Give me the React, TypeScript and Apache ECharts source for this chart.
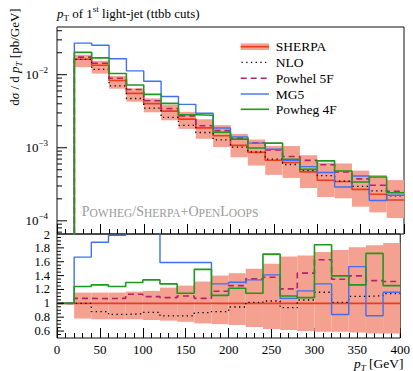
import React, { useEffect, useRef } from 'react';
import * as echarts from 'echarts';

// Bin edges in GeV (first bin 0-20 is empty)
const binEdges = [0, 20, 40, 60, 80, 100, 120, 140, 160, 180, 200, 220, 240, 260, 280, 300, 320, 340, 360, 380, 400];

// SHERPA central values dσ/dpT [pb/GeV] per bin
const sherpa = [0, 0.01626, 0.01345, 0.00835, 0.00556, 0.00402, 0.00317, 0.00247, 0.00187, 0.00146, 0.00108, 0.000865, 0.000676, 0.00063, 0.000468, 0.000359, 0.000345, 0.000269, 0.000231, 0.000193];

// SHERPA uncertainty band, as ratio to central value
const sherpaBandUp = [1, 1.155, 1.155, 1.155, 1.17, 1.18, 1.227, 1.256, 1.314, 1.4, 1.435, 1.5, 1.57, 1.676, 1.69, 1.74, 1.77, 1.81, 1.836, 1.87];
const sherpaBandDown = [1, 0.78, 0.77, 0.77, 0.77, 0.76, 0.75, 0.734, 0.71, 0.7, 0.686, 0.66, 0.63, 0.614, 0.6, 0.59, 0.59, 0.58, 0.565, 0.565];

// Ratios to SHERPA
const nloRatio = [1, 1.0, 0.88, 0.84, 0.85, 0.87, 0.82, 0.82, 0.865, 0.88, 0.947, 1.014, 1.034, 0.937, 1.048, 1.16, 1.014, 1.1, 1.11, 1.14];
const powhelRatio = [1, 1.072, 1.068, 1.072, 1.13, 1.097, 1.082, 1.106, 1.072, 1.175, 1.256, 1.353, 1.377, 1.208, 1.435, 1.628, 1.348, 1.396, 1.328, 1.314];
const mg5Ratio = [1, 1.667, 1.88, 1.98, 2.03, 2.02, 1.59, 1.59, 1.59, 1.28, 1.304, 1.338, 1.41, 1.072, 1.18, 1.28, 0.84, 1.53, 0.82, 1.16];
const powhegRatio = [1, 1.242, 1.266, 1.242, 1.3, 1.338, 1.28, 1.145, 1.49, 1.115, 1.217, 1.145, 1.71, 1.106, 1.082, 1.845, 1.396, 1.266, 1.72, 1.256];

const legendNames = ['SHERPA', 'NLO', 'Powhel 5F', 'MG5', 'Powheg 4F'];
const ratioTickLabels = ['0.6', '0.8', '1', '1.2', '1.4', '1.6', '1.8', '2'];
const mainTickLabels = [1e-4, 1e-3, 1e-2];

const SERIF = "'Liberation Serif', 'DejaVu Serif', serif";
const BAND = '#f5a191';
const RED = '#ee3b1d';
const BLUE = '#3f70f0';
const GREEN = '#1d991d';
const MAGENTA = '#b0246c';
const BLACK = '#000';
const FLOOR = 1e-9; // stands for an empty bin on the log axis

const MAIN_MIN = 6.6e-5;
const MAIN_MAX = 0.045;
const RATIO_MIN = 0.5;
const RATIO_MAX = 2;

function stepData(vals: number[]) {
  const d: number[][] = vals.map((v, i) => [binEdges[i], v > 0 ? v : FLOOR]);
  d.push([binEdges[vals.length], vals[vals.length - 1] > 0 ? vals[vals.length - 1] : FLOOR]);
  return d;
}

function times(a: number[], b: number[]) {
  return a.map((v, i) => v * b[i]);
}

export default function App() {
  const ref = useRef<HTMLDivElement>(null);
  useEffect(() => {
    if (!ref.current) return;
    const chart = echarts.init(ref.current, null, { renderer: 'svg' });

    const bandMain: number[][] = [];
    const bandRatio: number[][] = [];
    for (let i = 0; i < sherpa.length; i++) {
      if (sherpa[i] <= 0) continue;
      bandMain.push([binEdges[i], binEdges[i + 1], sherpa[i] * sherpaBandDown[i], sherpa[i] * sherpaBandUp[i]]);
      bandRatio.push([binEdges[i], binEdges[i + 1], sherpaBandDown[i], sherpaBandUp[i]]);
    }

    const bandRender = (params: any, api: any) => {
      const p0 = api.coord([api.value(0), api.value(3)]);
      const p1 = api.coord([api.value(1), api.value(2)]);
      return {
        type: 'rect',
        shape: { x: p0[0], y: p0[1], width: p1[0] - p0[0], height: p1[1] - p0[1] },
        style: { fill: BAND },
      };
    };

    // y tick marks (main log axis)
    const mainTicks: number[][] = [];
    for (let e = -5; e <= -1; e++) {
      for (let m = 1; m <= 9; m++) {
        const v = m * Math.pow(10, e);
        if (v > MAIN_MIN && v < MAIN_MAX) mainTicks.push([0, v, m === 1 ? 1 : 0]);
      }
    }
    const mainTickRender = (params: any, api: any) => {
      const p = api.coord([0, api.value(1)]);
      const len = api.value(2) ? 10 : 5;
      return {
        type: 'line',
        shape: { x1: p[0], y1: p[1], x2: p[0] + len, y2: p[1] },
        style: { stroke: BLACK, lineWidth: 1 },
      };
    };

    // ratio ticks + labels (every 0.05, labelled every 0.2)
    const ratioTicks: number[][] = [];
    for (let k = 11; k <= 39; k++) {
      const major = k % 4 === 0 ? 1 : 0;
      ratioTicks.push([0, k / 20, major, major ? (k - 12) / 4 : -1]);
    }
    const ratioTickRender = (params: any, api: any) => {
      const p = api.coord([0, api.value(1)]);
      const major = api.value(2);
      const li = api.value(3);
      const children: any[] = [
        {
          type: 'line',
          shape: { x1: p[0], y1: p[1], x2: p[0] + (major ? 7 : 4), y2: p[1] },
          style: { stroke: BLACK, lineWidth: 1 },
        },
      ];
      if (li >= 0) {
        children.push({
          type: 'text',
          x: p[0] - 7,
          y: p[1],
          style: {
            text: ratioTickLabels[li],
            textAlign: 'right',
            textVerticalAlign: 'middle',
            fontFamily: SERIF,
            fontSize: 12.5,
            fill: BLACK,
          },
        });
      }
      return { type: 'group', children };
    };

    const lineSeries = (name: string, data: number[][], color: string, width: number, type: any, xi: number, z: number) => ({
      name,
      type: 'line',
      xAxisIndex: xi,
      yAxisIndex: xi,
      step: 'end',
      data,
      showSymbol: false,
      symbol: 'none',
      silent: true,
      z,
      lineStyle: { color, width, type },
    });

    const xAxisBase = {
      type: 'value',
      min: 0,
      max: 400,
      interval: 50,
      axisLine: { show: false },
      axisTick: { show: true, inside: true, length: 10, lineStyle: { color: BLACK, width: 1 } },
      minorTick: { show: true, splitNumber: 5, length: 5, lineStyle: { color: BLACK, width: 1 } },
      splitLine: { show: false },
      minorSplitLine: { show: false },
    };

    const option: any = {
      animation: false,
      backgroundColor: '#fff',
      grid: [
        { left: 57, top: 27, width: 347, height: 207, show: true, borderColor: '#111', borderWidth: 1, backgroundColor: 'transparent' },
        { left: 57, top: 234, width: 347, height: 104, show: true, borderColor: '#111', borderWidth: 1, backgroundColor: 'transparent' },
      ],
      xAxis: [
        { ...xAxisBase, gridIndex: 0, axisLabel: { show: false } },
        {
          ...xAxisBase,
          gridIndex: 1,
          axisLabel: { show: true, margin: 5, color: BLACK, fontFamily: SERIF, fontSize: 13, showMinLabel: true, showMaxLabel: true },
        },
      ],
      yAxis: [
        {
          type: 'log',
          logBase: 10,
          gridIndex: 0,
          min: MAIN_MIN,
          max: MAIN_MAX,
          axisLine: { show: false },
          axisTick: { show: false },
          minorTick: { show: false },
          splitLine: { show: false },
          axisLabel: {
            margin: 9,
            color: BLACK,
            fontFamily: SERIF,
            fontSize: 13,
            customValues: mainTickLabels,
            formatter: (v: number) => {
              const r = Math.round(Math.log10(v));
              return `{n|10}{s|−${-r}}`;
            },
            rich: {
              n: { fontFamily: SERIF, fontSize: 13, lineHeight: 18, color: BLACK },
              s: { fontFamily: SERIF, fontSize: 9, lineHeight: 9, verticalAlign: 'top', color: BLACK },
            },
          },
        },
        {
          type: 'value',
          gridIndex: 1,
          min: RATIO_MIN,
          max: RATIO_MAX,
          axisLine: { show: false },
          axisTick: { show: false },
          splitLine: { show: false },
          axisLabel: { show: false },
        },
      ],
      series: [
        { type: 'custom', xAxisIndex: 0, yAxisIndex: 0, data: bandMain, encode: { x: [0, 1], y: [2, 3] }, renderItem: bandRender, silent: true, z: 1 },
        lineSeries(legendNames[0], stepData(sherpa), RED, 1.6, 'solid', 0, 3),
        lineSeries(legendNames[1], stepData(times(sherpa, nloRatio)), BLACK, 1.3, [1.3, 3.4], 0, 4),
        lineSeries(legendNames[2], stepData(times(sherpa, powhelRatio)), MAGENTA, 1.6, [6, 4], 0, 5),
        lineSeries(legendNames[3], stepData(times(sherpa, mg5Ratio)), BLUE, 1.4, 'solid', 0, 6),
        lineSeries(legendNames[4], stepData(times(sherpa, powhegRatio)), GREEN, 1.6, 'solid', 0, 7),

        { type: 'custom', xAxisIndex: 1, yAxisIndex: 1, data: bandRatio, encode: { x: [0, 1], y: [2, 3] }, renderItem: bandRender, silent: true, z: 1 },
        lineSeries('SHERPA ratio', [[0, 1], [400, 1]], RED, 1.6, 'solid', 1, 3),
        lineSeries('NLO ratio', stepData(nloRatio), BLACK, 1.3, [1.3, 3.4], 1, 4),
        lineSeries('Powhel ratio', stepData(powhelRatio), MAGENTA, 1.6, [6, 4], 1, 5),
        lineSeries('MG5 ratio', stepData(mg5Ratio), BLUE, 1.4, 'solid', 1, 6),
        lineSeries('Powheg ratio', stepData(powhegRatio), GREEN, 1.6, 'solid', 1, 7),

        { type: 'custom', xAxisIndex: 0, yAxisIndex: 0, data: mainTicks, encode: { x: 0, y: 1 }, renderItem: mainTickRender, silent: true, z: 10, clip: false },
        { type: 'custom', xAxisIndex: 1, yAxisIndex: 1, data: ratioTicks, encode: { x: 0, y: 1 }, renderItem: ratioTickRender, silent: true, z: 10, clip: false },
      ],
      graphic: [
        // title
        {
          type: 'text',
          x: 57,
          y: 13,
          style: {
            text: '{i|p}{sb|T}{n| of 1}{sp|st}{n| light-jet (ttbb cuts)}',
            textVerticalAlign: 'middle',
            rich: {
              n: { fontFamily: SERIF, fontSize: 13, lineHeight: 18, fill: BLACK },
              i: { fontFamily: SERIF, fontSize: 13, lineHeight: 18, fontStyle: 'italic', fill: BLACK },
              sb: { fontFamily: SERIF, fontSize: 9, lineHeight: 9, verticalAlign: 'bottom', fill: BLACK },
              sp: { fontFamily: SERIF, fontSize: 9, lineHeight: 9, verticalAlign: 'top', fill: BLACK },
            },
          },
        },
        // y axis title
        {
          type: 'text',
          x: 14.5,
          y: 57,
          rotation: Math.PI / 2,
          style: {
            text: '{n|d}{i|σ}{n| / d }{i|p}{sb|T}{n| [pb/GeV]}',
            textAlign: 'center',
            textVerticalAlign: 'middle',
            rich: {
              n: { fontFamily: SERIF, fontSize: 13, lineHeight: 18, fill: BLACK },
              i: { fontFamily: SERIF, fontSize: 13, lineHeight: 18, fontStyle: 'italic', fill: BLACK },
              sb: { fontFamily: SERIF, fontSize: 9, lineHeight: 9, fontStyle: 'italic', verticalAlign: 'bottom', fill: BLACK },
            },
          },
        },
        // ratio top label (axis maximum)
        {
          type: 'text',
          x: 50,
          y: 235,
          style: { text: ratioTickLabels[ratioTickLabels.length - 1], textAlign: 'right', textVerticalAlign: 'middle', fontFamily: SERIF, fontSize: 12.5, fill: BLACK },
        },
        // x axis title
        {
          type: 'text',
          x: 403.5,
          y: 363,
          style: {
            text: '{i|p}{sb|T}{n| [GeV]}',
            textAlign: 'right',
            textVerticalAlign: 'middle',
            rich: {
              n: { fontFamily: SERIF, fontSize: 13.5, lineHeight: 18, fill: BLACK },
              i: { fontFamily: SERIF, fontSize: 13.5, lineHeight: 18, fontStyle: 'italic', fill: BLACK },
              sb: { fontFamily: SERIF, fontSize: 9, lineHeight: 9, fontStyle: 'italic', verticalAlign: 'bottom', fill: BLACK },
            },
          },
        },
        // watermark
        {
          type: 'text',
          x: 81.7,
          y: 210,
          style: {
            text: '{B|P}{S|OWHEG}{B|/S}{S|HERPA}{B|+O}{S|PEN}{B|L}{S|OOPS}',
            textVerticalAlign: 'middle',
            rich: {
              B: { fontFamily: SERIF, fontSize: 14, lineHeight: 17, verticalAlign: 'bottom', fill: '#9a9a9a' },
              S: { fontFamily: SERIF, fontSize: 11.5, lineHeight: 17, verticalAlign: 'bottom', fill: '#9a9a9a' },
            },
          },
        },
        // legend
        { type: 'rect', shape: { x: 240.7, y: 43.4, width: 28.3, height: 6.6 }, style: { fill: BAND } },
        { type: 'line', shape: { x1: 240.7, y1: 46.7, x2: 269, y2: 46.7 }, style: { stroke: RED, lineWidth: 1.6 } },
        { type: 'line', shape: { x1: 241.5, y1: 62.3, x2: 269, y2: 62.3 }, style: { stroke: BLACK, lineWidth: 1.3, lineDash: [1.3, 3.4] } },
        { type: 'line', shape: { x1: 240.7, y1: 78.3, x2: 269, y2: 78.3 }, style: { stroke: MAGENTA, lineWidth: 1.6, lineDash: [6, 4] } },
        { type: 'line', shape: { x1: 240.7, y1: 94, x2: 269, y2: 94 }, style: { stroke: BLUE, lineWidth: 1.4 } },
        { type: 'line', shape: { x1: 240.7, y1: 109.3, x2: 269, y2: 109.3 }, style: { stroke: GREEN, lineWidth: 1.6 } },
        ...legendNames.map((name, i) => ({
          type: 'text',
          x: 275.7,
          y: [46.7, 62.3, 78.3, 94, 109.3][i],
          style: { text: name, fontFamily: SERIF, fontSize: 13.5, fill: BLACK, textVerticalAlign: 'middle' },
        })),
      ],
    };

    chart.setOption(option);
    return () => chart.dispose();
  }, []);

  return <div ref={ref} style={{ position: 'fixed', left: 0, top: 0, width: 413, height: 371, background: '#fff' }} />;
}
